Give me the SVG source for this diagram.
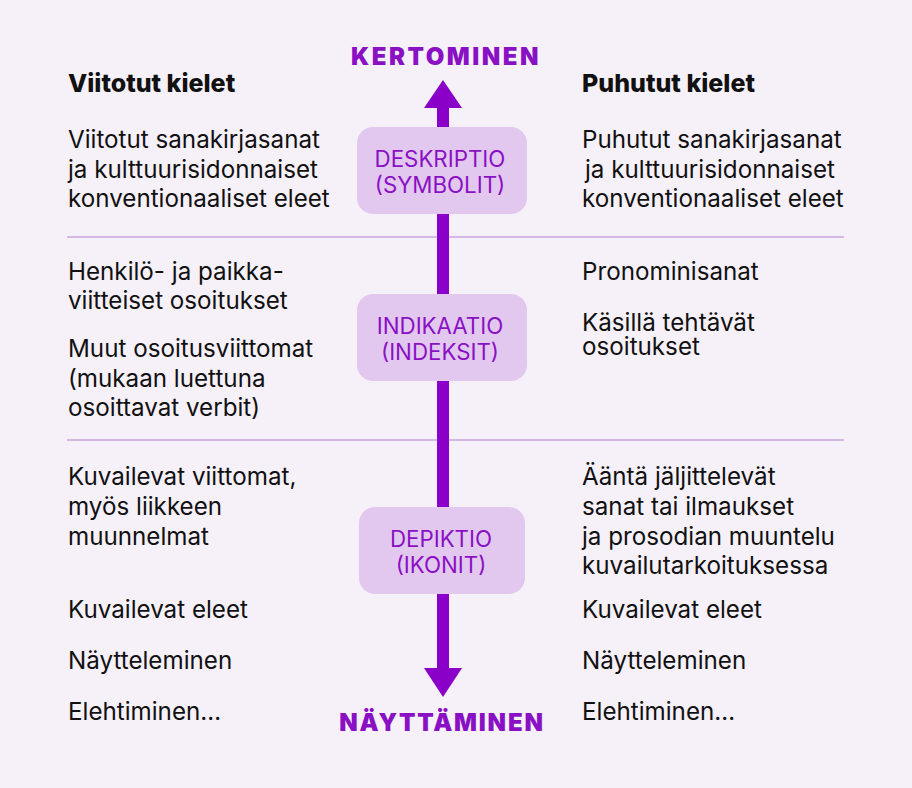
<svg xmlns="http://www.w3.org/2000/svg" width="912" height="788" viewBox="0 0 912 788">
<style>
.t{font-family:Inter,"Liberation Sans",sans-serif;font-size:24.2px;fill:#111}
.h{font-family:Inter,"Liberation Sans",sans-serif;font-size:25px;font-weight:800;fill:#111}
.ax{font-family:Inter,"Liberation Sans",sans-serif;font-size:24px;font-weight:900;fill:#8a10c4;letter-spacing:2.5px;text-anchor:middle}
.box{fill:#e2c8ee}
.bt{font-family:Inter,"Liberation Sans",sans-serif;font-size:22.3px;fill:#8a10c4;text-anchor:middle}
.sep{stroke:#c8a6e0;stroke-width:1.5}
</style>
<rect width="912" height="788" fill="#f6f0f8"/>
<g id="separators">
<line class="sep" x1="67" y1="237" x2="844" y2="237"/>
<line class="sep" x1="67" y1="440" x2="844" y2="440"/>
</g>
<g id="connectors">
<rect x="437" y="106" width="12" height="564" fill="#8a00c8"/>
<polygon points="443,80 424,108 462,108" fill="#8a00c8"/>
<polygon points="443,697 424,668 462,668" fill="#8a00c8"/>
</g>
<g id="kertominen"><text class="ax" x="446" y="65">KERTOMINEN</text></g>
<g id="nayttaminen"><text class="ax" x="442" y="731" style="letter-spacing:1.8px">NÄYTTÄMINEN</text></g>
<g id="deskriptio">
<rect class="box" x="357" y="127" width="170" height="87" rx="16"/>
<text class="bt" x="440" y="167">DESKRIPTIO</text>
<text class="bt" x="440" y="193">(SYMBOLIT)</text>
</g>
<g id="indikaatio">
<rect class="box" x="357" y="294" width="170" height="87" rx="16"/>
<text class="bt" x="440" y="334">INDIKAATIO</text>
<text class="bt" x="440" y="360">(INDEKSIT)</text>
</g>
<g id="depiktio">
<rect class="box" x="359" y="507" width="166" height="87" rx="16"/>
<text class="bt" x="441" y="547">DEPIKTIO</text>
<text class="bt" x="441" y="573">(IKONIT)</text>
</g>
<g id="left">
<text class="h" x="68" y="92">Viitotut kielet</text>
<text class="t" x="68" y="148">Viitotut sanakirjasanat</text>
<text class="t" x="68" y="178">ja kulttuurisidonnaiset</text>
<text class="t" x="68" y="207">konventionaaliset eleet</text>
<text class="t" x="68" y="280">Henkilö- ja paikka-</text>
<text class="t" x="68" y="309">viitteiset osoitukset</text>
<text class="t" x="68" y="357">Muut osoitusviittomat</text>
<text class="t" x="68" y="387">(mukaan luettuna</text>
<text class="t" x="68" y="416">osoittavat verbit)</text>
<text class="t" x="68" y="485">Kuvailevat viittomat,</text>
<text class="t" x="68" y="515">myös liikkeen</text>
<text class="t" x="68" y="545">muunnelmat</text>
<text class="t" x="68" y="618">Kuvailevat eleet</text>
<text class="t" x="68" y="669">Näytteleminen</text>
<text class="t" x="68" y="720">Elehtiminen…</text>
</g>
<g id="right">
<text class="h" x="582" y="92">Puhutut kielet</text>
<text class="t" x="582" y="148">Puhutut sanakirjasanat</text>
<text class="t" x="585" y="178">ja kulttuurisidonnaiset</text>
<text class="t" x="582" y="207">konventionaaliset eleet</text>
<text class="t" x="582" y="280">Pronominisanat</text>
<text class="t" x="582" y="331">Käsillä tehtävät</text>
<text class="t" x="582" y="355">osoitukset</text>
<text class="t" x="582" y="485">Ääntä jäljittelevät</text>
<text class="t" x="582" y="515">sanat tai ilmaukset</text>
<text class="t" x="582" y="545">ja prosodian muuntelu</text>
<text class="t" x="582" y="574">kuvailutarkoituksessa</text>
<text class="t" x="582" y="618">Kuvailevat eleet</text>
<text class="t" x="582" y="669">Näytteleminen</text>
<text class="t" x="582" y="720">Elehtiminen…</text>
</g>
</svg>
